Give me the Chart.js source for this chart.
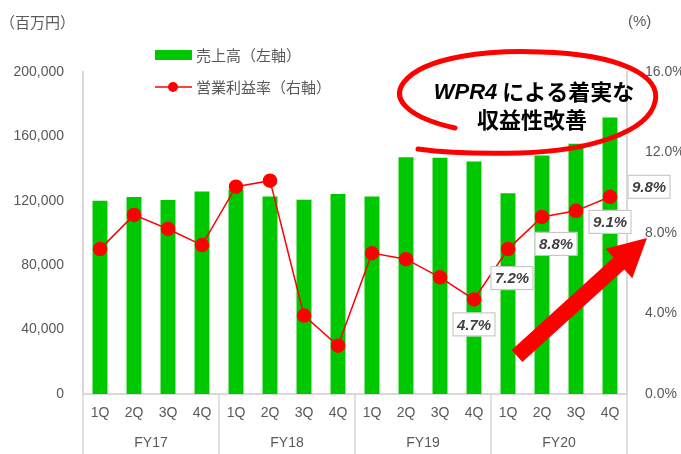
<!DOCTYPE html>
<html>
<head>
<meta charset="utf-8">
<script src="https://cdn.jsdelivr.net/npm/chart.js@4"></script>
<style>
  html, body { margin: 0; padding: 0; background: #fff; }
  #wrap { width: 681px; height: 454px; position: relative; }
</style>
</head>
<body>
<div id="wrap"><canvas id="chart"></canvas></div>
<script>
// Data
const quarters = ['1Q', '2Q', '3Q', '4Q', '1Q', '2Q', '3Q', '4Q', '1Q', '2Q', '3Q', '4Q', '1Q', '2Q', '3Q', '4Q'];
const fiscalYears = ['FY17', 'FY18', 'FY19', 'FY20'];
const sales = [120000, 122400, 120500, 125700, 126700, 122600, 120600, 124300, 122600, 147100, 146700, 144400, 124700, 148100, 155500, 171800];
const margin = [7.2, 8.9, 8.2, 7.4, 10.3, 10.6, 3.9, 2.4, 7.0, 6.7, 5.8, 4.7, 7.2, 8.8, 9.1, 9.8];
const leftTicks = [0, 40000, 80000, 120000, 160000, 200000];
const rightTicks = [0, 4, 8, 12, 16];
const labelledPoints = [11, 12, 13, 14, 15];
const labelOffsets = [[0, 25], [4, 29], [14, 27], [34, 11], [39, -10]];

const GREEN = '#00c800';
const RED = '#ff0000';
const AXIS = '#d9d9d9';
const TEXT = '#595959';
const NUM_FONT = "'Liberation Sans', Arial, sans-serif";
const JP_FONT = "'Noto Sans CJK JP', 'Noto Sans', sans-serif";

// Extra drawing: titles, legend, year groups, value boxes, callout
const decorations = {
    id: 'decorations',
    afterDraw(chart) {
        const ctx = chart.ctx;
        const area = chart.chartArea;
        const x = chart.scales.x;
        const y2 = chart.scales.y2;
        ctx.save();

        // axis unit titles
        ctx.fillStyle = TEXT;
        ctx.textBaseline = 'middle';
        ctx.textAlign = 'left';
        ctx.font = '15px ' + JP_FONT;
        ctx.fillText('（百万円）', 0, 22);
        ctx.font = '15px ' + NUM_FONT;
        ctx.fillText('(%)', 628, 22);

        // legend
        ctx.fillStyle = GREEN;
        ctx.fillRect(155, 50, 37, 10);
        ctx.strokeStyle = RED;
        ctx.lineWidth = 1.5;
        ctx.beginPath();
        ctx.moveTo(155, 87);
        ctx.lineTo(192, 87);
        ctx.stroke();
        ctx.fillStyle = RED;
        ctx.beginPath();
        ctx.arc(173, 87, 5, 0, Math.PI * 2);
        ctx.fill();
        ctx.fillStyle = TEXT;
        ctx.font = '15px ' + JP_FONT;
        ctx.fillText('売上高（左軸）', 196, 55);
        ctx.fillText('営業利益率（右軸）', 196, 87);

        // fiscal year group separators and labels
        const step = (area.right - area.left) / quarters.length;
        ctx.strokeStyle = AXIS;
        ctx.lineWidth = 1.5;
        for (let g = 0; g <= fiscalYears.length; g++) {
            const gx = area.left + g * 4 * step;
            ctx.beginPath();
            ctx.moveTo(gx, area.bottom);
            ctx.lineTo(gx, chart.height);
            ctx.stroke();
        }
        ctx.fillStyle = TEXT;
        ctx.textAlign = 'center';
        ctx.font = '14px ' + NUM_FONT;
        fiscalYears.forEach(function(fy, g) {
            ctx.fillText(fy, area.left + (g * 4 + 2) * step, 443);
        });

        // value boxes
        ctx.font = 'italic bold 15px ' + NUM_FONT;
        labelledPoints.forEach(function(i, k) {
            const px = x.getPixelForValue(i) + labelOffsets[k][0];
            const py = y2.getPixelForValue(margin[i]) + labelOffsets[k][1];
            const w = 43, h = 24;
            ctx.fillStyle = '#ffffff';
            ctx.fillRect(px - w / 2, py - h / 2, w, h);
            ctx.strokeStyle = '#bfbfbf';
            ctx.lineWidth = 1;
            ctx.strokeRect(px - w / 2 + 0.5, py - h / 2 + 0.5, w - 1, h - 1);
            ctx.fillStyle = '#404040';
            ctx.fillText(margin[i].toFixed(1) + '%', px, py + 1);
        });

        // hand drawn ellipse
        ctx.strokeStyle = RED;
        ctx.lineWidth = 5;
        ctx.lineCap = 'round';
        ctx.beginPath();
        ctx.moveTo(455, 128);
        ctx.bezierCurveTo(410, 118, 390, 100, 404, 82);
        ctx.bezierCurveTo(425, 56, 490, 50, 540, 52);
        ctx.bezierCurveTo(620, 54, 662, 76, 655, 102);
        ctx.bezierCurveTo(648, 132, 590, 151, 520, 153);
        ctx.bezierCurveTo(480, 154, 440, 152, 418, 149);
        ctx.stroke();

        // callout text
        ctx.fillStyle = '#000000';
        ctx.textAlign = 'left';
        ctx.font = 'italic bold 22px ' + NUM_FONT;
        const w1 = ctx.measureText('WPR4').width;
        ctx.font = 'bold 22px ' + JP_FONT;
        const w2 = ctx.measureText('による着実な').width;
        const startX = 534 - (w1 + 5 + w2) / 2;
        ctx.font = 'italic bold 22px ' + NUM_FONT;
        ctx.fillText('WPR4', startX, 93);
        ctx.font = 'bold 22px ' + JP_FONT;
        ctx.fillText('による着実な', startX + w1 + 5, 92);
        ctx.textAlign = 'center';
        ctx.fillText('収益性改善', 532, 120);

        // arrow
        const tx = 517, ty = 356, hx = 647, hy = 238;
        const ang = Math.atan2(hy - ty, hx - tx);
        const len = Math.hypot(hx - tx, hy - ty);
        ctx.translate(tx, ty);
        ctx.rotate(ang);
        ctx.fillStyle = RED;
        ctx.beginPath();
        ctx.moveTo(0, -8);
        ctx.lineTo(len - 38, -8);
        ctx.lineTo(len - 38, -20);
        ctx.lineTo(len, 0);
        ctx.lineTo(len - 38, 20);
        ctx.lineTo(len - 38, 8);
        ctx.lineTo(0, 8);
        ctx.closePath();
        ctx.fill();

        ctx.restore();
    }
};

function initChart() {
    const ctx = document.getElementById('chart');
    new Chart(ctx, {
        data: {
            labels: quarters,
            datasets: [
                {
                    type: 'line',
                    label: '営業利益率（右軸）',
                    data: margin,
                    yAxisID: 'y2',
                    borderColor: RED,
                    borderWidth: 1.5,
                    pointBackgroundColor: RED,
                    pointBorderColor: RED,
                    pointRadius: 6.5,
                    tension: 0,
                    order: 0
                },
                {
                    type: 'bar',
                    label: '売上高（左軸）',
                    data: sales,
                    yAxisID: 'y',
                    backgroundColor: GREEN,
                    categoryPercentage: 1,
                    barPercentage: 0.44,
                    order: 1
                }
            ]
        },
        options: {
            responsive: true,
            maintainAspectRatio: false,
            animation: false,
            layout: { padding: { left: 0, right: 0, top: 72, bottom: 0 } },
            plugins: {
                legend: { display: false },
                tooltip: { enabled: false }
            },
            scales: {
                x: {
                    grid: { display: false, drawTicks: false },
                    border: { display: true, color: AXIS, width: 2 },
                    ticks: {
                        padding: 11,
                        color: TEXT,
                        maxRotation: 0,
                        autoSkip: false,
                        font: { family: NUM_FONT, size: 14 }
                    },
                    afterFit: function(scale) { scale.height = 60; }
                },
                y: {
                    position: 'left',
                    min: 0,
                    max: 200000,
                    afterBuildTicks: function(scale) {
                        scale.ticks = leftTicks.map(function(v) { return { value: v }; });
                    },
                    grid: { display: false, drawTicks: false },
                    border: { display: true, color: AXIS, width: 2 },
                    ticks: {
                        padding: 19,
                        color: TEXT,
                        font: { family: NUM_FONT, size: 14 },
                        callback: function(v) { return v.toLocaleString('en-US'); }
                    },
                    afterFit: function(scale) { scale.width = 83; }
                },
                y2: {
                    position: 'right',
                    min: 0,
                    max: 16,
                    afterBuildTicks: function(scale) {
                        scale.ticks = rightTicks.map(function(v) { return { value: v }; });
                    },
                    grid: { display: false, drawTicks: false },
                    border: { display: true, color: AXIS, width: 2 },
                    ticks: {
                        padding: 18,
                        color: TEXT,
                        font: { family: NUM_FONT, size: 14 },
                        callback: function(v) { return v.toFixed(1) + '%'; }
                    },
                    afterFit: function(scale) { scale.width = 54; }
                }
            }
        },
        plugins: [decorations]
    });
}

document.addEventListener('DOMContentLoaded', initChart);
</script>
</body>
</html>
